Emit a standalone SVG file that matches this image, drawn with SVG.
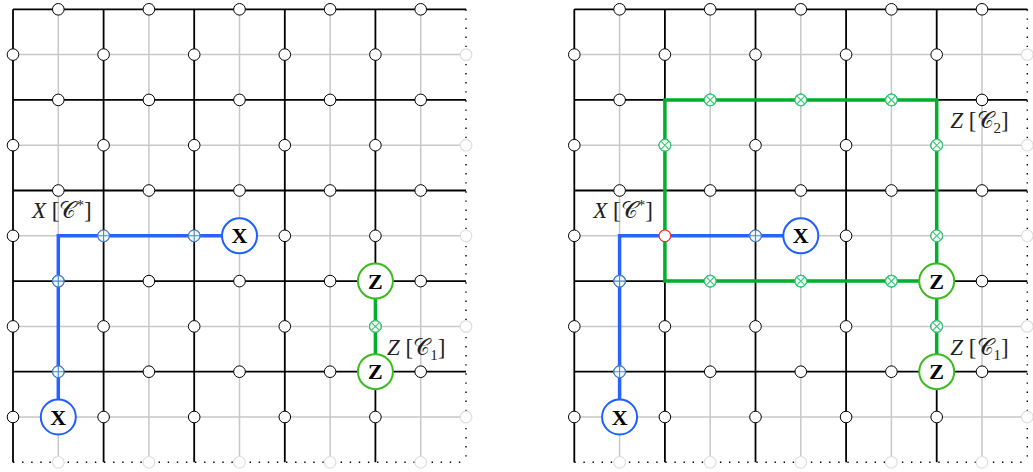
<svg xmlns="http://www.w3.org/2000/svg" xmlns:xlink="http://www.w3.org/1999/xlink" width="1033" height="472" viewBox="0 0 1033 472">
<style>
.grey{stroke:#c8c8c8;stroke-width:1.5;fill:none}
.blk{stroke:#000;stroke-width:1.8;fill:none}
.dot{stroke:#000;stroke-width:1.4;stroke-dasharray:1.4 7.7;fill:none}
.q{fill:#fff;stroke:#000;stroke-width:1}
.qf{fill:#fff;stroke:#dedede;stroke-width:1.2}
.bpath{stroke:#2962ff;stroke-width:3.5;fill:none;stroke-linejoin:miter}
.gpath{stroke:#00b02c;stroke-width:3.5;fill:none;stroke-linejoin:miter}
.xc{fill:#fff;stroke:#1f5fff;stroke-width:2}
.zc{fill:#fff;stroke:#3cbb1e;stroke-width:2}
.lbl{font-family:"Liberation Serif","DejaVu Serif",serif;font-weight:bold;font-size:22px;text-anchor:middle;fill:#000}
.ptxt{font-family:"Liberation Serif","DejaVu Serif",serif;font-size:23px;fill:#222}
.red{fill:#fff;stroke:#ff3030;stroke-width:1.2}
</style>
<defs>
<circle id="q" r="5.8"/>
<g id="pl"><circle r="5.8" fill="#f4f8ff" stroke="#4a86c8" stroke-width="1.2"/><path d="M-5.8,0H5.8M0,-5.8V5.8" stroke="#4a86c8" stroke-width="1.1" fill="none"/></g>
<g id="cr"><circle r="5.8" fill="#fff" stroke="#33cc77" stroke-width="1.2"/><path d="M-4.1,-4.1L4.1,4.1M-4.1,4.1L4.1,-4.1" stroke="#33cc77" stroke-width="1.1" fill="none"/></g>
<g id="lattice">
<path class="grey" d="M13,54.6H466M13,145.2H466M13,235.8H466M13,326.4H466M13,417H466M58.3,9.3V462.3M148.9,9.3V462.3M239.5,9.3V462.3M330.1,9.3V462.3M420.7,9.3V462.3"/>
<path class="blk" d="M13,9.3H466M13,99.9H466M13,190.5H466M13,281.1H466M13,371.7H466M13,9.3V462.3M103.6,9.3V462.3M194.2,9.3V462.3M284.8,9.3V462.3M375.4,9.3V462.3"/>
<path class="dot" d="M466,9.3V462.3M13,462.3H466"/>
<g class="qf">
<use xlink:href="#q" x="466" y="54.6"/><use xlink:href="#q" x="466" y="145.2"/><use xlink:href="#q" x="466" y="235.8"/><use xlink:href="#q" x="466" y="326.4"/><use xlink:href="#q" x="466" y="417"/>
<use xlink:href="#q" x="58.3" y="462.3"/><use xlink:href="#q" x="148.9" y="462.3"/><use xlink:href="#q" x="239.5" y="462.3"/><use xlink:href="#q" x="330.1" y="462.3"/><use xlink:href="#q" x="420.7" y="462.3"/>
</g>
<g class="q">
<use xlink:href="#q" x="58.3" y="9.3"/><use xlink:href="#q" x="148.9" y="9.3"/><use xlink:href="#q" x="239.5" y="9.3"/><use xlink:href="#q" x="330.1" y="9.3"/><use xlink:href="#q" x="420.7" y="9.3"/>
<use xlink:href="#q" x="58.3" y="99.9"/><use xlink:href="#q" x="148.9" y="99.9"/><use xlink:href="#q" x="239.5" y="99.9"/><use xlink:href="#q" x="330.1" y="99.9"/><use xlink:href="#q" x="420.7" y="99.9"/>
<use xlink:href="#q" x="58.3" y="190.5"/><use xlink:href="#q" x="148.9" y="190.5"/><use xlink:href="#q" x="239.5" y="190.5"/><use xlink:href="#q" x="330.1" y="190.5"/><use xlink:href="#q" x="420.7" y="190.5"/>
<use xlink:href="#q" x="58.3" y="281.1"/><use xlink:href="#q" x="148.9" y="281.1"/><use xlink:href="#q" x="239.5" y="281.1"/><use xlink:href="#q" x="330.1" y="281.1"/><use xlink:href="#q" x="420.7" y="281.1"/>
<use xlink:href="#q" x="58.3" y="371.7"/><use xlink:href="#q" x="148.9" y="371.7"/><use xlink:href="#q" x="239.5" y="371.7"/><use xlink:href="#q" x="330.1" y="371.7"/><use xlink:href="#q" x="420.7" y="371.7"/>
<use xlink:href="#q" x="13" y="54.6"/><use xlink:href="#q" x="103.6" y="54.6"/><use xlink:href="#q" x="194.2" y="54.6"/><use xlink:href="#q" x="284.8" y="54.6"/><use xlink:href="#q" x="375.4" y="54.6"/>
<use xlink:href="#q" x="13" y="145.2"/><use xlink:href="#q" x="103.6" y="145.2"/><use xlink:href="#q" x="194.2" y="145.2"/><use xlink:href="#q" x="284.8" y="145.2"/><use xlink:href="#q" x="375.4" y="145.2"/>
<use xlink:href="#q" x="13" y="235.8"/><use xlink:href="#q" x="103.6" y="235.8"/><use xlink:href="#q" x="194.2" y="235.8"/><use xlink:href="#q" x="284.8" y="235.8"/><use xlink:href="#q" x="375.4" y="235.8"/>
<use xlink:href="#q" x="13" y="326.4"/><use xlink:href="#q" x="103.6" y="326.4"/><use xlink:href="#q" x="194.2" y="326.4"/><use xlink:href="#q" x="284.8" y="326.4"/><use xlink:href="#q" x="375.4" y="326.4"/>
<use xlink:href="#q" x="13" y="417"/><use xlink:href="#q" x="103.6" y="417"/><use xlink:href="#q" x="194.2" y="417"/><use xlink:href="#q" x="284.8" y="417"/><use xlink:href="#q" x="375.4" y="417"/>
</g>
</g>
</defs>

<g id="panel-left">
<use xlink:href="#lattice"/>
<g id="connectors-left">
<path class="bpath" d="M58.3,417V235.8H239.5"/>
<path class="gpath" d="M375.4,281.1V371.7"/>
</g>
<g id="L-plus1"><use xlink:href="#pl" x="58.3" y="371.7"/></g>
<g id="L-plus2"><use xlink:href="#pl" x="58.3" y="281.1"/></g>
<g id="L-plus3"><use xlink:href="#pl" x="103.6" y="235.8"/></g>
<g id="L-plus4"><use xlink:href="#pl" x="194.2" y="235.8"/></g>
<g id="L-cross1"><use xlink:href="#cr" x="375.4" y="326.4"/></g>
<g id="L-X1"><circle class="xc" cx="58.3" cy="417" r="17.5"/><text class="lbl" x="58.3" y="424.6">X</text></g>
<g id="L-X2"><circle class="xc" cx="239.5" cy="235.8" r="17.5"/><text class="lbl" x="239.5" y="243.4">X</text></g>
<g id="L-Z1"><circle class="zc" cx="375.4" cy="281.1" r="17.5"/><text class="lbl" x="375.4" y="288.7">Z</text></g>
<g id="L-Z2"><circle class="zc" cx="375.4" cy="371.7" r="17.5"/><text class="lbl" x="375.4" y="379.3">Z</text></g>
<text class="ptxt" x="32" y="218"><tspan font-style="italic">X</tspan> [𝒞<tspan dy="-8" font-size="15">*</tspan><tspan dy="8">]</tspan></text>
<text class="ptxt" x="387" y="355"><tspan font-style="italic">Z</tspan> [𝒞<tspan dy="5" font-size="15">1</tspan><tspan dy="-5">]</tspan></text>
</g>

<g id="panel-right" transform="translate(561.3,0)">
<use xlink:href="#lattice"/>
<g id="connectors-right">
<path class="gpath" d="M103.6,99.9H375.4V281.1H103.6Z"/>
<path class="gpath" d="M375.4,281.1V371.7"/>
<path class="bpath" d="M58.3,417V235.8H239.5"/>
</g>
<g id="R-plus1"><use xlink:href="#pl" x="58.3" y="371.7"/></g>
<g id="R-plus2"><use xlink:href="#pl" x="58.3" y="281.1"/></g>
<g id="R-plus3"><use xlink:href="#pl" x="194.2" y="235.8"/></g>
<g id="R-red"><circle class="red" cx="103.6" cy="235.8" r="5.8"/></g>
<g id="R-cross1"><use xlink:href="#cr" x="148.9" y="99.9"/></g>
<g id="R-cross2"><use xlink:href="#cr" x="239.5" y="99.9"/></g>
<g id="R-cross3"><use xlink:href="#cr" x="330.1" y="99.9"/></g>
<g id="R-cross4"><use xlink:href="#cr" x="103.6" y="145.2"/></g>
<g id="R-cross5"><use xlink:href="#cr" x="375.4" y="145.2"/></g>
<g id="R-cross6"><use xlink:href="#cr" x="375.4" y="235.8"/></g>
<g id="R-cross7"><use xlink:href="#cr" x="148.9" y="281.1"/></g>
<g id="R-cross8"><use xlink:href="#cr" x="239.5" y="281.1"/></g>
<g id="R-cross9"><use xlink:href="#cr" x="330.1" y="281.1"/></g>
<g id="R-cross10"><use xlink:href="#cr" x="375.4" y="326.4"/></g>
<g id="R-X1"><circle class="xc" cx="58.3" cy="417" r="17.5"/><text class="lbl" x="58.3" y="424.6">X</text></g>
<g id="R-X2"><circle class="xc" cx="239.5" cy="235.8" r="17.5"/><text class="lbl" x="239.5" y="243.4">X</text></g>
<g id="R-Z1"><circle class="zc" cx="375.4" cy="281.1" r="17.5"/><text class="lbl" x="375.4" y="288.7">Z</text></g>
<g id="R-Z2"><circle class="zc" cx="375.4" cy="371.7" r="17.5"/><text class="lbl" x="375.4" y="379.3">Z</text></g>
<text class="ptxt" x="32" y="218"><tspan font-style="italic">X</tspan> [𝒞<tspan dy="-8" font-size="15">*</tspan><tspan dy="8">]</tspan></text>
<text class="ptxt" x="389" y="355"><tspan font-style="italic">Z</tspan> [𝒞<tspan dy="5" font-size="15">1</tspan><tspan dy="-5">]</tspan></text>
<text class="ptxt" x="389" y="128"><tspan font-style="italic">Z</tspan> [𝒞<tspan dy="5" font-size="15">2</tspan><tspan dy="-5">]</tspan></text>
</g>
</svg>
